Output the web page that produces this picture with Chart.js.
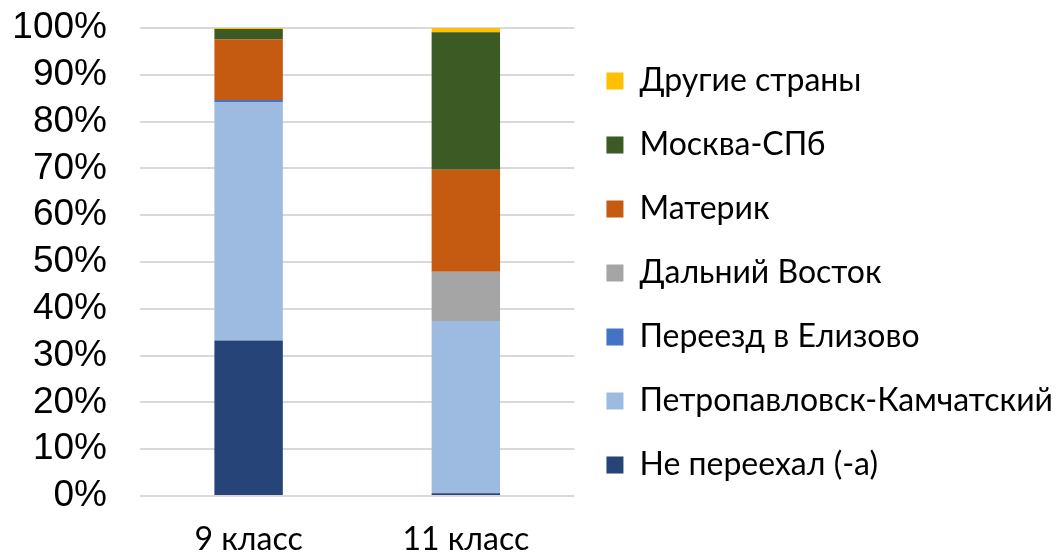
<!DOCTYPE html>
<html>
<head>
<meta charset="utf-8">
<script src="https://cdn.jsdelivr.net/npm/chart.js@4"></script>
<style>
  body { margin: 0; background: #fff; }
  #wrap { width: 1063px; height: 560px; }
</style>
</head>
<body>
<div id="wrap"><canvas id="myChart" width="1063" height="560"></canvas></div>
<script>
const classes = ['9 класс', '11 класс'];

const seriesNames = [
  'Не переехал (-а)',
  'Петропавловск-Камчатский',
  'Переезд в Елизово',
  'Дальний Восток',
  'Материк',
  'Москва-СПб',
  'Другие страны',
];

const stayed = [33.2, 0.6];
const petropavlovsk = [51.0, 36.8];
const yelizovo = [0.4, 0];
const farEast = [0, 10.5];
const mainland = [13.0, 21.8];
const moscowSpb = [2.2, 29.4];
const abroad = [0.2, 0.9];

const yTicks = [0, 10, 20, 30, 40, 50, 60, 70, 80, 90, 100];

const colors = ['#264478', '#9dbae0', '#4472c4', '#a5a5a5', '#c55a11', '#3b5a24', '#ffc000'];

const values = [stayed, petropavlovsk, yelizovo, farEast, mainland, moscowSpb, abroad];

const chartData = {
  labels: classes,
  datasets: seriesNames.map((name, i) => ({
    label: name,
    data: values[i],
    backgroundColor: colors[i],
    borderWidth: 0,
    barPercentage: 0.63,
    categoryPercentage: 0.5,
  })),
};

const labelFont = { family: 'Lato', size: 32 };

const config = {
  type: 'bar',
  data: chartData,
  options: {
    responsive: false,
    animation: false,
    // negative top padding only moves the legend up a little
    layout: { padding: { top: -14, right: 0, left: 10, bottom: 0 } },
    scales: {
      x: {
        stacked: true,
        grid: { display: false },
        border: { display: false },
        ticks: { color: '#000', font: labelFont, padding: 16 },
        afterFit: (axis) => {
          axis.height = 64;
        },
      },
      y: {
        stacked: true,
        min: 0,
        max: 100,
        afterBuildTicks: (axis) => {
          axis.ticks = yTicks.map((v) => ({ value: v }));
        },
        afterFit: (axis) => {
          axis.width = 130;
          axis.paddingTop = 28;
          axis.paddingBottom = 0;
        },
        grid: { color: '#d9d9d9', lineWidth: 2, drawTicks: false },
        border: { display: false },
        ticks: {
          color: '#000',
          font: { family: 'Liberation Sans', size: 37 },
          padding: 33,
          autoSkip: false,
          callback: (v) => v + '%',
        },
      },
    },
    plugins: {
      legend: {
        position: 'right',
        reverse: true,
        maxWidth: 490,
        labels: {
          color: '#000',
          font: labelFont,
          boxWidth: 17,
          boxHeight: 17,
          padding: 32,
        },
      },
      tooltip: { enabled: false },
    },
  },
};

const myChart = new Chart(document.getElementById('myChart'), config);
</script>
</body>
</html>
